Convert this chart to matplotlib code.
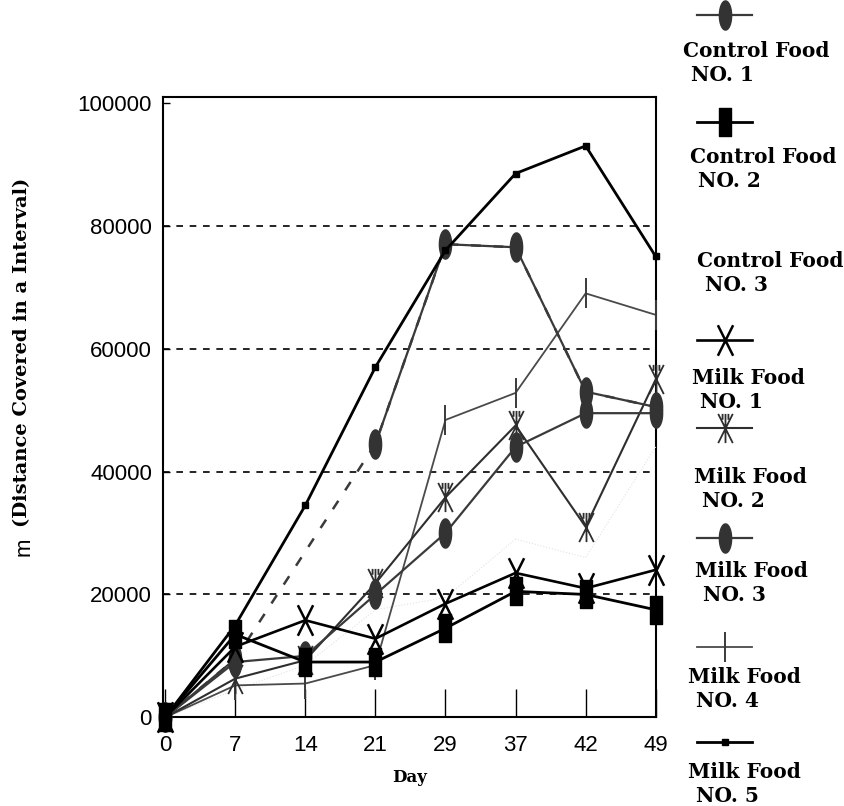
import numpy as np
import matplotlib
matplotlib.use('Agg')
import matplotlib.pyplot as plt
from matplotlib.path import Path
from matplotlib.lines import Line2D

# data (day index 0..7)
days = ['0', '7', '14', '21', '29', '37', '42', '49']
control1 = [0, 9500, np.nan, 44500, 77000, 76500, 53000, 50500]
control2 = [0, 13500, 9000, 9000, 14500, 20500, 20000, 17500]
control3 = [0, 4500, 8500, 17500, 19500, 29000, 26000, 44000]
milk1 = [0, 11500, 15800, 12800, 18500, 23500, 21000, 24000]
milk2 = [0, 6300, 9300, 21800, 35800, 47500, 31000, 55000]
milk3 = [0, 9000, 10000, 20000, 30000, 44000, 49500, 49500]
milk4 = [0, 5200, 5500, 8500, 48400, 52800, 69000, 65500]
milk5 = [0, 15000, 34500, 57000, 76000, 88500, 93000, 75000]
yticks = [0, 20000, 40000, 60000, 80000, 100000]

# custom marker shapes
t = np.linspace(0, 2 * np.pi, 40)
oval = Path(np.column_stack([0.42 * np.cos(t), np.sin(t)]), closed=True)
rect = Path([(-0.45, -1), (0.45, -1), (0.45, 1), (-0.45, 1), (-0.45, -1)],
            closed=True)
cross = Path([(-0.5, 1), (0.5, -1), (0.5, 1), (-0.5, -1)],
             [Path.MOVETO, Path.LINETO, Path.MOVETO, Path.LINETO])
star = Path([(-0.5, 1), (0.5, -1), (0.5, 1), (-0.5, -1), (0, 1), (0, -1),
             (-0.2, 1), (-0.2, 0.6), (0.2, 1), (0.2, 0.6)],
            [Path.MOVETO, Path.LINETO, Path.MOVETO, Path.LINETO,
             Path.MOVETO, Path.LINETO, Path.MOVETO, Path.LINETO,
             Path.MOVETO, Path.LINETO])

styles = {
    'c1': dict(color='#3a3a3a', lw=1.6, marker=oval, ms=21, mfc='#333333', mec='#333333'),
    'c2': dict(color='black', lw=2.0, marker=rect, ms=20, mfc='black', mec='black'),
    'c3': dict(color='#e2e2e2', lw=0.8, ls=':', marker=None),
    'm1': dict(color='black', lw=1.9, marker=cross, ms=22, mew=1.8, mec='black'),
    'm2': dict(color='#2e2e2e', lw=1.5, marker=star, ms=21, mew=1.3, mec='#2e2e2e'),
    'm3': dict(color='#3a3a3a', lw=1.6, marker=oval, ms=21, mfc='#333333', mec='#333333'),
    'm4': dict(color='#4a4a4a', lw=1.3, marker='|', ms=22, mew=1.4, mec='#3a3a3a'),
    'm5': dict(color='black', lw=2.0, marker='s', ms=5, mfc='black', mec='black'),
}

fig = plt.figure(figsize=(8.45, 8.06), dpi=100)
ax = fig.add_axes([0.193, 0.110, 0.583, 0.770])

x = np.arange(len(days))
c1 = np.array(control1)
ok = ~np.isnan(c1)
ax.plot(x[ok], c1[ok], color='#3a3a3a', lw=1.8, ls=(0, (4, 5)), clip_on=False)

series = [('c3', control3), ('m4', milk4), ('m2', milk2), ('m3', milk3),
          ('c1', control1), ('c2', control2), ('m1', milk1), ('m5', milk5)]
for key, vals in series:
    ax.plot(x, vals, clip_on=False, zorder=3, **styles[key])

for v in yticks[1:-1]:
    ax.axhline(v, color='black', lw=1.2, ls=(0, (4, 4)), zorder=1)

ax.set_xlim(-0.03, 7)
ax.set_ylim(0, 101000)
ax.set_xticks(x)
ax.set_xticklabels(days)
ax.set_yticks(yticks)
ax.set_yticklabels([str(v) for v in yticks])
ax.tick_params(axis='x', direction='in', length=20, width=1, pad=13,
               labelsize=16)
ax.tick_params(axis='y', direction='in', length=5, width=1, pad=8,
               labelsize=16)
for lab in ax.get_xticklabels() + ax.get_yticklabels():
    lab.set_family('Liberation Sans')
for s in ax.spines.values():
    s.set_linewidth(1.5)

ax.set_xlabel('Day', family='DejaVu Serif', fontweight='bold', fontsize=12,
              labelpad=9)
fig.text(0.028, 0.322, 'm', rotation=90, family='Liberation Sans',
         fontsize=16, ha='center', va='center')
fig.text(0.026, 0.563, '(Distance Covered in a Interval)', rotation=90,
         family='DejaVu Serif', fontweight='bold', fontsize=14,
         ha='center', va='center')

# legend on the right: sample above, name below
legend = [('c1', 'Control Food', 'NO. 1', 15, 51, 683),
          ('c2', 'Control Food', 'NO. 2', 122, 157, 690),
          ('c3', 'Control Food', 'NO. 3', None, 261, 697),
          ('m1', 'Milk Food', 'NO. 1', 340, 378, 692),
          ('m2', 'Milk Food', 'NO. 2', 428, 477, 694),
          ('m3', 'Milk Food', 'NO. 3', 538, 571, 695),
          ('m4', 'Milk Food', 'NO. 4', 647, 677, 688),
          ('m5', 'Milk Food', 'NO. 5', 742, 772, 688)]
W, H = 845.0, 806.0
for key, l1, l2, my, ty, tx in legend:
    if my is not None:
        ln = Line2D([697 / W, 725 / W, 752 / W], [1 - my / H] * 3,
                    transform=fig.transFigure, markevery=[1], **styles[key])
        fig.add_artist(ln)
    fig.text(tx / W, 1 - ty / H, l1, family='DejaVu Serif',
             fontweight='bold', fontsize=14.5, va='center')
    fig.text((tx + 8) / W, 1 - (ty + 24) / H, l2, family='DejaVu Serif',
             fontweight='bold', fontsize=14.5, va='center')

fig.savefig('out.png', dpi=100)
